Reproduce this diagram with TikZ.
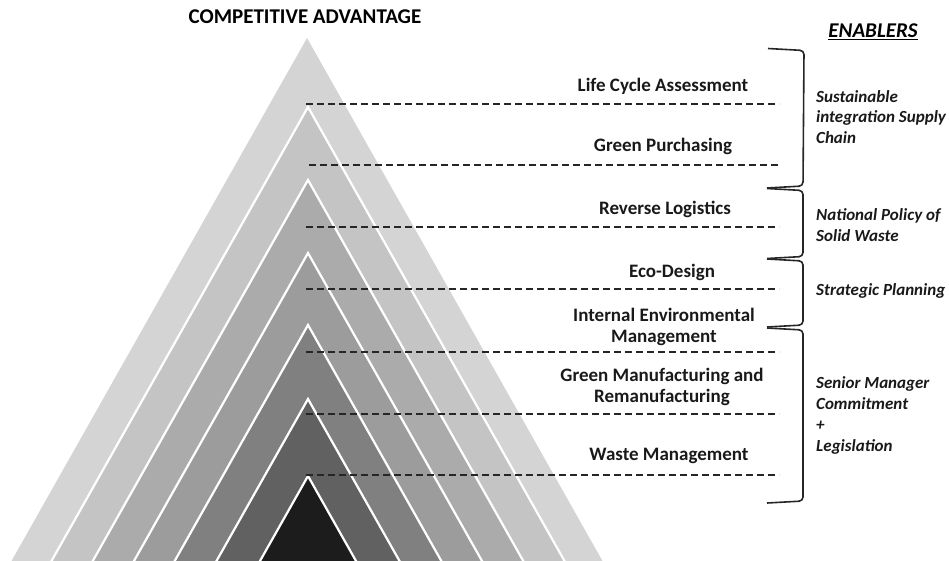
\documentclass[tikz,border=0pt]{standalone}
\usepackage{fontspec}
\setmainfont{Carlito}
\begin{document}
\begin{tikzpicture}[x=1pt,y=-1pt,
  layer/.style={draw=white,line width=2.2pt,line join=miter},
  sepline/.style={draw=black!85,line width=2pt,dash pattern=on 7.3pt off 3.7pt},
  bracket/.style={draw=black!85,line width=1.6pt,rounded corners=4pt},
  item/.style={font=\bfseries\fontsize{19}{21.5}\selectfont,align=center,inner sep=0pt,text=black!90},
  enabler/.style={font=\bfseries\itshape\fontsize{17}{20.7}\selectfont,align=left,anchor=west,inner sep=0pt,text=black!90}]
\useasboundingbox (0,0) rectangle (949,560);

% nested pyramid layers, clipped at the lower edge
\begin{scope}
  \clip (0,0) rectangle (949,560);
  \fill[black!17] (307,38) -- (307+0.565*562,600) -- (307-0.565*562,600) -- cycle;
  \foreach \a/\shade in {107/23,180/33,253/39,325/50,399/62,476/89}{
    \path[layer,fill=black!\shade] (308,\a) -- (308+0.565*600-0.565*\a,600) -- (308-0.565*600+0.565*\a,600) -- cycle;
  }
\end{scope}

% title
\node[font=\bfseries\fontsize{21}{24}\selectfont,inner sep=0pt] (title) at (305,17) {COMPETITIVE ADVANTAGE};

% separators between the practices
\coordinate (l1) at (306,104); \coordinate (r1) at (779,104);
\coordinate (l2) at (309,165); \coordinate (r2) at (781,165);
\coordinate (l3) at (306,227); \coordinate (r3) at (779,227);
\coordinate (l4) at (306,289); \coordinate (r4) at (779,289);
\coordinate (l5) at (306,352); \coordinate (r5) at (779,352);
\coordinate (l6) at (306,414); \coordinate (r6) at (779,414);
\coordinate (l7) at (306,475); \coordinate (r7) at (779,475);
\foreach \i in {1,...,7}{\draw[sepline] (l\i) -- (r\i);}

% practices
\node[item] (lca) at (663,86)  {Life Cycle Assessment};
\node[item] (gp)  at (663,146) {Green Purchasing};
\node[item] (rl)  at (665,209) {Reverse Logistics};
\node[item] (ed)  at (672,272) {Eco-Design};
\node[item] (iem) at (664,327) {Internal Environmental\\Management};
\node[item] (gm)  at (662,387) {Green Manufacturing and\\Remanufacturing};
\node[item] (wm)  at (669,456) {Waste Management};

% enablers heading
\node[font=\bfseries\itshape\fontsize{21}{24}\selectfont,inner sep=0pt] (enab) at (873,32) {\underline{ENABLERS}};

% brackets grouping the practices (arms slope slightly towards the spine)
\coordinate (b1t) at (768,48.5);  \coordinate (b1b) at (767,188);
\coordinate (b2t) at (767,188.5); \coordinate (b2b) at (767,258.5);
\coordinate (b3t) at (767,259);   \coordinate (b3b) at (767,327);
\coordinate (b4t) at (767,328);   \coordinate (b4b) at (767,503);
\foreach \k in {1,...,4}{
  \draw[bracket] (b\k t) -- ([shift={(36pt,-2pt)}]b\k t) -- ([shift={(36pt,2pt)}]b\k b) -- (b\k b);
}

% enablers
\node[enabler] (e1) at (816,117) {Sustainable\\integration Supply\\Chain};
\node[enabler] (e2) at (816,225) {National Policy of\\Solid Waste};
\node[enabler] (e3) at (816,291) {Strategic Planning};
\node[enabler] (e4) at (816,415.5) {Senior Manager\\Commitment\\+\\Legislation};
\end{tikzpicture}
\end{document}
